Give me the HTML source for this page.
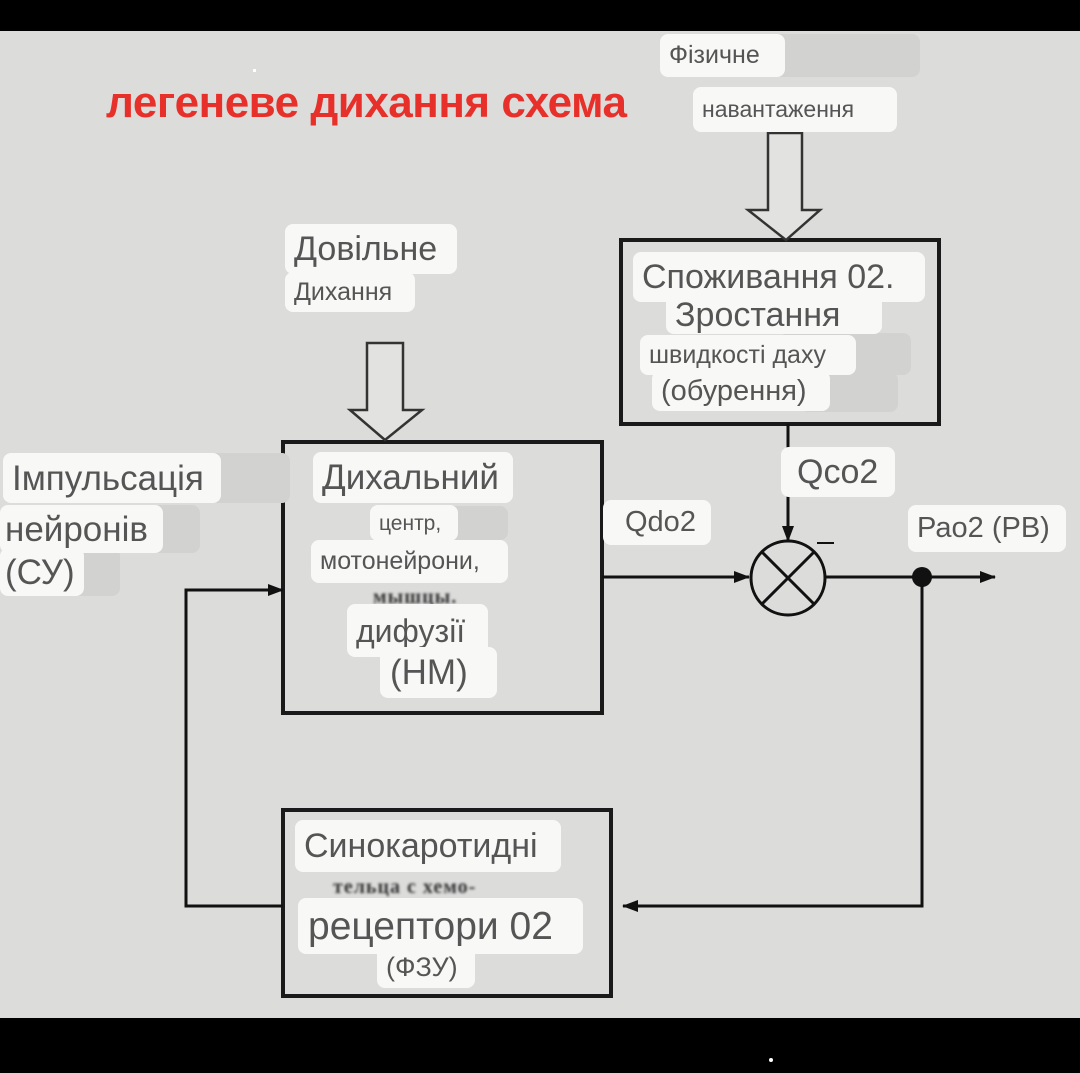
<!DOCTYPE html>
<html><head><meta charset="utf-8"><style>
html,body{margin:0;padding:0;}
body{width:1080px;height:1073px;position:relative;background:#dcdcdb;overflow:hidden;font-family:"Liberation Sans","DejaVu Sans",sans-serif;}
.l{position:absolute;background:#f8f8f6;border-radius:8px;color:#555;white-space:nowrap;box-sizing:border-box;padding-left:9px;line-height:1;display:flex;align-items:center;}
.g{position:absolute;background:#d2d2d1;border-radius:8px;}
.b{position:absolute;color:#333;font-family:"Liberation Serif",serif;font-weight:bold;filter:blur(1.2px);letter-spacing:1px;}
</style></head><body>
<div style="position:absolute;left:0;top:0;width:1080px;height:31px;background:#000"></div>
<div style="position:absolute;left:0;top:1018px;width:1080px;height:55px;background:#000"></div>
<div style="position:absolute;left:769px;top:1058px;width:4px;height:4px;background:#fff;border-radius:2px"></div>
<svg style="position:absolute;left:0;top:0" width="1080" height="1073">
<defs><marker id="a" markerWidth="16" markerHeight="12" refX="15" refY="6" orient="auto" markerUnits="userSpaceOnUse"><path d="M0,0 L16,6 L0,12 Z" fill="#111"/></marker></defs>
<g fill="none" stroke="#1a1a1a" stroke-width="4">
<rect x="621" y="240" width="318" height="184"/>
<rect x="283" y="442" width="319" height="271"/>
<rect x="283" y="810" width="328" height="186"/>
</g>
<g fill="#e2e2e1" stroke="#333" stroke-width="2.5">
<path d="M768,133 L802,133 L802,210 L820,210 L786,240 L748,210 L768,210 Z"/>
<path d="M367,343 L403,343 L403,410 L422,410 L385,440 L350,410 L367,410 Z"/>
</g>
<g fill="none" stroke="#111" stroke-width="3">
<line x1="602" y1="577" x2="749" y2="577" marker-end="url(#a)"/>
<circle cx="788" cy="578" r="37"/>
<line x1="762" y1="552" x2="814" y2="604"/><line x1="814" y1="552" x2="762" y2="604"/>
<line x1="825" y1="577" x2="995" y2="577" marker-end="url(#a)"/>
<line x1="788" y1="424" x2="788" y2="541" marker-end="url(#a)"/>
<polyline points="922,577 922,906 623,906" marker-end="url(#a)"/>
<polyline points="283,906 186,906 186,590 283,590" marker-end="url(#a)"/>
<line x1="817" y1="543" x2="834" y2="543" stroke-width="2"/>
</g>
<circle cx="922" cy="577" r="10" fill="#111"/>
</svg>
<div style="position:absolute;left:106px;top:78px;font-size:44px;font-weight:bold;color:#e8302a;white-space:nowrap;letter-spacing:-0.5px">легеневе дихання схема</div>
<div class="g" style="left:700px;top:34px;width:220px;height:43px"></div>
<div class="l" style="left:660px;top:34px;width:125px;height:43px;font-size:25px">Фізичне</div>
<div class="l" style="left:693px;top:87px;width:204px;height:45px;font-size:23px">навантаження</div>
<div class="l" style="left:285px;top:224px;width:172px;height:50px;font-size:34px">Довільне</div>
<div class="l" style="left:285px;top:272px;width:130px;height:40px;font-size:25px">Дихання</div>
<div class="g" style="left:780px;top:333px;width:131px;height:42px"></div>
<div class="g" style="left:800px;top:372px;width:98px;height:40px"></div>
<div class="l" style="left:633px;top:252px;width:292px;height:50px;font-size:34px">Споживання 02.</div>
<div class="l" style="left:666px;top:296px;width:216px;height:38px;font-size:34px">Зростання</div>
<div class="l" style="left:640px;top:335px;width:216px;height:40px;font-size:25px">швидкості даху</div>
<div class="l" style="left:652px;top:371px;width:178px;height:40px;font-size:29px">(обурення)</div>
<div class="g" style="left:160px;top:453px;width:130px;height:50px"></div>
<div class="g" style="left:80px;top:505px;width:120px;height:48px"></div>
<div class="g" style="left:40px;top:548px;width:80px;height:48px"></div>
<div class="l" style="left:3px;top:453px;width:218px;height:50px;font-size:35px">Імпульсація</div>
<div class="l" style="left:0px;top:505px;width:163px;height:48px;font-size:35px;padding-left:5px">нейронів</div>
<div class="l" style="left:0px;top:548px;width:84px;height:48px;font-size:35px;padding-left:5px">(СУ)</div>
<div class="g" style="left:440px;top:506px;width:68px;height:34px"></div>
<div class="l" style="left:313px;top:452px;width:200px;height:51px;font-size:35px">Дихальний</div>
<div class="l" style="left:370px;top:505px;width:88px;height:36px;font-size:21px">центр,</div>
<div class="l" style="left:311px;top:540px;width:197px;height:43px;font-size:25px">мотонейрони,</div>
<div class="b" style="left:373px;top:586px;font-size:20px">мышцы.</div>
<div class="l" style="left:347px;top:604px;width:141px;height:53px;font-size:32px">дифузії</div>
<div class="l" style="left:380px;top:647px;width:117px;height:51px;font-size:35px;padding-left:10px">(НМ)</div>
<div class="l" style="left:603px;top:500px;width:108px;height:45px;font-size:29px;padding-left:22px">Qdo2</div>
<div class="l" style="left:781px;top:447px;width:114px;height:50px;font-size:34px;padding-left:16px">Qco2</div>
<div class="l" style="left:908px;top:505px;width:158px;height:47px;font-size:29px">Рао2 (РВ)</div>
<div class="l" style="left:295px;top:820px;width:266px;height:52px;font-size:34px">Синокаротидні</div>
<div class="b" style="left:333px;top:876px;font-size:20px">тельца с хемо-</div>
<div class="l" style="left:298px;top:898px;width:285px;height:56px;font-size:39px;padding-left:10px">рецептори 02</div>
<div class="l" style="left:377px;top:946px;width:98px;height:42px;font-size:27px">(ФЗУ)</div>
<div style="position:absolute;left:253px;top:69px;width:3px;height:3px;background:#fff"></div>
</body></html>
